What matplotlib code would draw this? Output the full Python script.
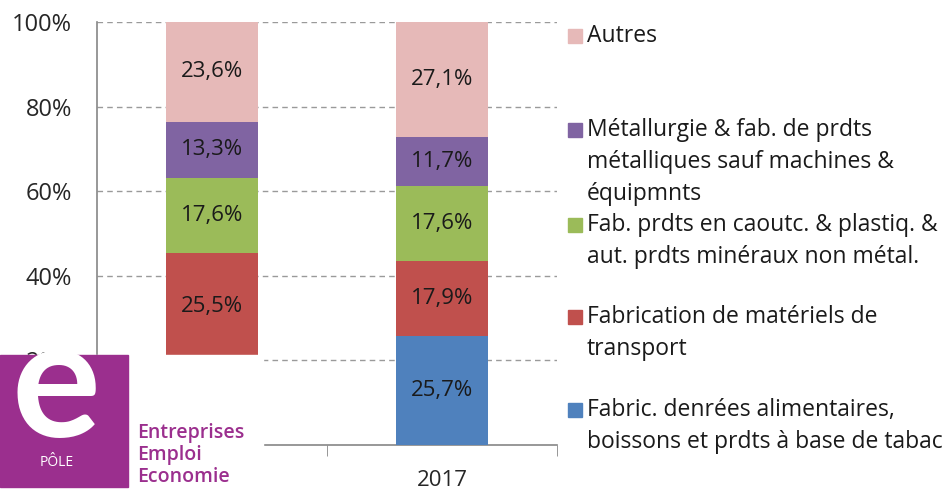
import matplotlib.pyplot as plt
from matplotlib.patches import Rectangle

plt.rcParams['font.family'] = ['Open Sans', 'DejaVu Sans']

categories = ['', '2017']
series_names = [
    'Fabric. denrées alimentaires,\nboissons et prdts à base de tabac',
    'Fabrication de matériels de\ntransport',
    'Fab. prdts en caoutc. & plastiq. &\naut. prdts minéraux non métal.',
    'Métallurgie & fab. de prdts\nmétalliques sauf machines &\néquipmnts',
    'Autres',
]
alimentaire = [20.0, 25.7]
transport = [25.5, 17.9]
caoutchouc = [17.6, 17.6]
metallurgie = [13.3, 11.7]
autres = [23.6, 27.1]
series = [alimentaire, transport, caoutchouc, metallurgie, autres]
colors = ['#4F81BD', '#C0504D', '#9BBB59', '#8064A2', '#E6B9B8']

W, H = 951, 491
fig = plt.figure(figsize=(W / 100, H / 100), dpi=100)


def fx(px):
    return px / W


def fy(py):
    return 1 - py / H


ax = fig.add_axes([fx(97), fy(445), fx(460), 423 / H])
x = list(range(len(categories)))
bottom = [0.0] * len(categories)
for vals, col in zip(series, colors):
    ax.bar(x, vals, bottom=bottom, width=0.4, color=col, zorder=3)
    for i, v in enumerate(vals):
        ax.text(x[i], bottom[i] + v / 2, f'{v:.1f}%'.replace('.', ','),
                ha='center', va='center', fontsize=16, color='#1a1a1a', zorder=4)
    bottom = [b + v for b, v in zip(bottom, vals)]

ax.set_xlim(-0.5, 1.5)
ax.set_ylim(0, 100)
ax.set_yticks([0, 20, 40, 60, 80, 100])
ax.set_yticklabels([f'{t}%' for t in [0, 20, 40, 60, 80, 100]], fontsize=17, color='#262626')
ax.set_xticks(x)
ax.set_xticklabels(categories, fontsize=16, color='#262626')
ax.set_xticks([-0.5, 0.5, 1.5], minor=True)
ax.tick_params(axis='x', which='major', length=0, pad=18)
ax.tick_params(axis='x', which='minor', length=8, color='#868686', direction='out')
ax.tick_params(axis='y', length=0, pad=18)
for t in [20, 40, 60, 80, 100]:
    ax.axhline(t, color='#9a9a9a', lw=1, ls=(0, (4, 3)), zorder=1)
for s in ['top', 'right']:
    ax.spines[s].set_visible(False)
for s in ['left', 'bottom']:
    ax.spines[s].set_color('#868686')
    ax.spines[s].set_linewidth(1.2)

# legend
leg_y = [36, 130, 225, 317, 410]
for name, col, yy in zip(series_names[::-1], colors[::-1], leg_y):
    fig.patches.append(Rectangle((fx(568), fy(yy + 7)), fx(14), 14 / H,
                                 transform=fig.transFigure, color=col))
    fig.text(fx(587), fy(yy - 12), name, ha='left', va='top', fontsize=16.5,
             color='#1a1a1a', linespacing=1.45)

# logo overlay
fig.patches.append(Rectangle((0, 0), fx(263), fy(355), transform=fig.transFigure,
                             color='white', zorder=10))
fig.patches.append(Rectangle((0, fy(487)), fx(128), fy(355) - fy(487),
                             transform=fig.transFigure, color='#9B2F8E', zorder=11))
fig.text(fx(56), fy(437), 'e', ha='center', va='baseline', fontsize=120,
         color='white', fontweight='bold', family='Lato', zorder=12)
fig.text(fx(57), fy(463), 'PÔLE', ha='center', va='center', fontsize=10,
         color='white', zorder=12)
for txt, yy in zip(['Entreprises', 'Emploi', 'Economie'], [433, 455, 477]):
    fig.text(fx(137), fy(yy), txt, ha='left', va='center', fontsize=14,
             color='#9B2F8E', fontweight='semibold', zorder=12)

fig.savefig('out.png', dpi=100)
